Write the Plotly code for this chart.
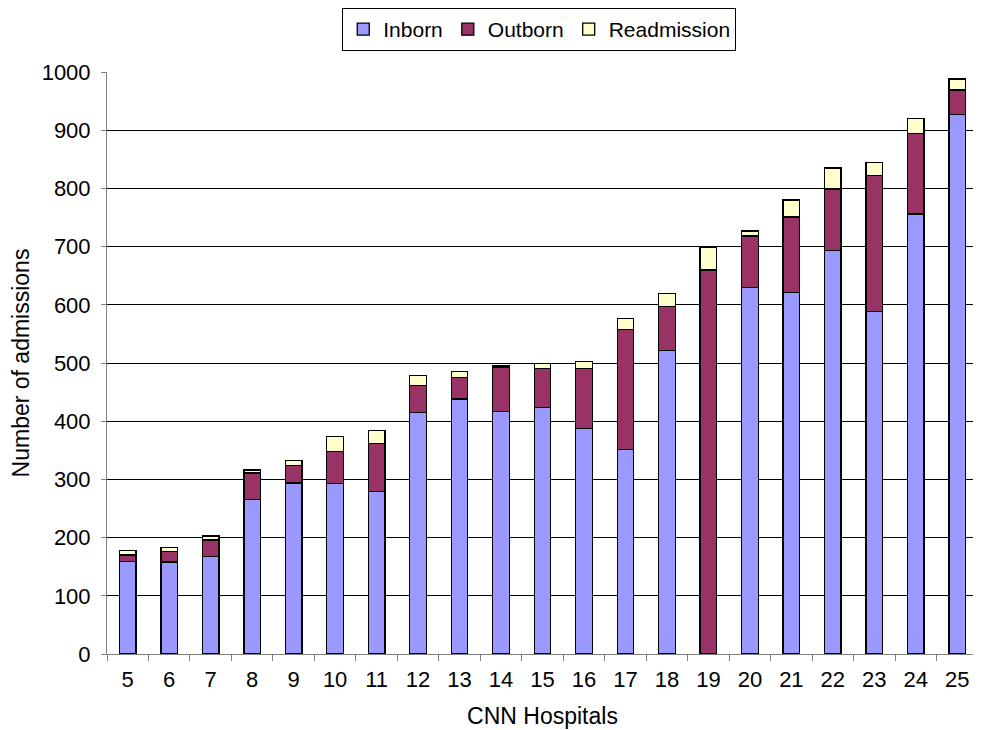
import plotly.graph_objects as go

hospitals = [str(i) for i in range(5, 26)]
inborn = [159, 158, 167, 265, 294, 293, 279, 415, 438, 417, 424, 388, 351, 522, 0, 630, 621, 693, 589, 756, 927]
outborn = [11, 18, 29, 46, 30, 55, 83, 46, 37, 76, 66, 102, 206, 75, 660, 88, 130, 106, 233, 138, 42]
readmission = [8, 7, 7, 5, 9, 26, 22, 18, 10, 2, 9, 12, 20, 23, 38, 9, 29, 36, 22, 26, 19]
y_ticks = list(range(0, 1001, 100))

FONT = "Liberation Sans, Arial, sans-serif"

fig = go.Figure()
for name, vals, color in [("Inborn", inborn, "#9999FF"),
                          ("Outborn", outborn, "#993366"),
                          ("Readmission", readmission, "#FFFFCC")]:
    fig.add_trace(go.Bar(x=hospitals, y=vals, name=name,
                         marker=dict(color=color, line=dict(color="black", width=1.3))))

fig.update_layout(
    barmode="stack",
    bargap=0.6,
    width=973, height=722,
    margin=dict(l=99, r=3, t=64, b=76, autoexpand=False),
    plot_bgcolor="white", paper_bgcolor="white",
    font=dict(family=FONT, size=22, color="black"),
    legend=dict(orientation="h", x=0.546, xanchor="center", xref="container",
                y=1.0, yanchor="top", yref="container",
                bordercolor="black", borderwidth=1, font=dict(size=21),
                traceorder="normal", itemwidth=30, tracegroupgap=0),
    xaxis=dict(title=dict(text="CNN Hospitals", font=dict(size=23), standoff=16),
               automargin=True,
               showline=True, linecolor="#808080", linewidth=1,
               ticks="outside", tickson="boundaries", ticklen=6, tickcolor="#808080",
               ticklabelstandoff=6,
               showgrid=False),
    yaxis=dict(title=dict(text="Number of admissions", font=dict(size=23), standoff=22),
               automargin=True,
               range=[0, 1000], tickvals=y_ticks,
               showline=True, linecolor="#808080", linewidth=1,
               ticks="outside", ticklen=5, tickcolor="#808080",
               ticklabelstandoff=6,
               showgrid=True, gridcolor="black", gridwidth=1,
               zeroline=False),
)

fig.write_html("out.html")
